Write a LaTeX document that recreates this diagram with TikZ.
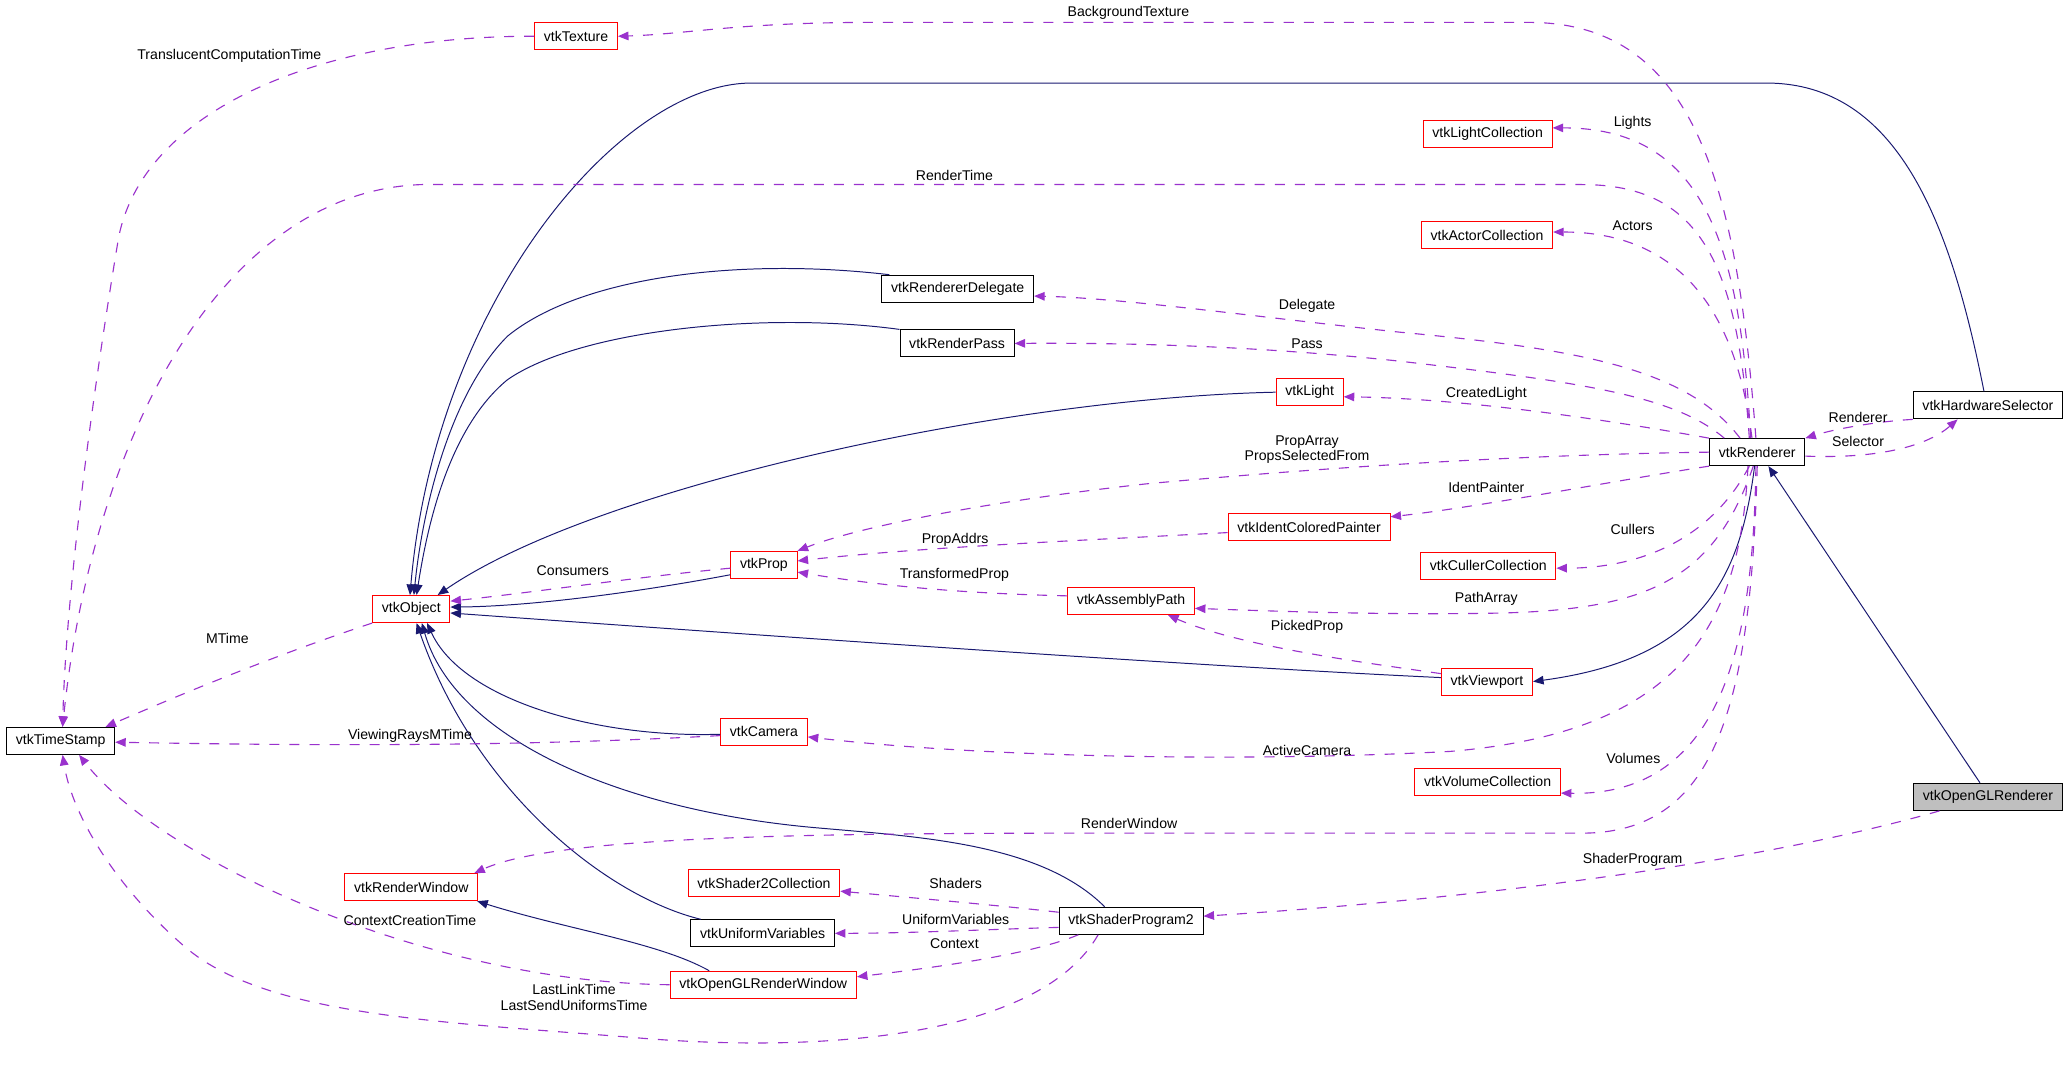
\documentclass[tikz,border=0pt]{standalone}
\usepackage{fontspec}
\setmainfont{Liberation Sans}
\usetikzlibrary{arrows.meta}
\definecolor{edgeblue}{RGB}{25,25,112}
\definecolor{edgepurple}{RGB}{154,50,205}
\definecolor{boxgray}{RGB}{191,191,191}
\begin{document}
\begin{tikzpicture}[x=1pt,y=-1pt,
  font=\fontsize{10.7}{12}\selectfont,
  cls/.style={draw=black,line width=0.75pt,minimum height=20.5pt,inner xsep=7pt,inner ysep=0pt},
  redcls/.style={cls,draw=red},
  lbl/.style={inner sep=0pt,align=center},
  inherit/.style={draw=edgeblue,line width=0.75pt,-{Triangle[length=8pt,width=6.5pt]}},
  usage/.style={draw=edgepurple,line width=0.85pt,dash pattern=on 7.6pt off 7.6pt,-{Triangle[length=8pt,width=6.5pt]}}]
   \useasboundingbox (0,0) rectangle (1568,809);

   \node[redcls] (tex) at (437,27.5) {vtkTexture};
   \node[redcls] (lcol) at (1128.5,101.5) {vtkLightCollection};
   \node[redcls] (acol) at (1128,178.5) {vtkActorCollection};
   \node[cls] (del) at (726.5,219) {vtkRendererDelegate};
   \node[cls] (pass) at (726,260.5) {vtkRenderPass};
   \node[redcls] (light) at (993.5,297.5) {vtkLight};
   \node[cls] (hw) at (1508,307.5) {vtkHardwareSelector};
   \node[cls] (ren) at (1333,343) {vtkRenderer};
   \node[redcls] (paint) at (993,400) {vtkIdentColoredPainter};
   \node[redcls] (prop) at (579.5,428.5) {vtkProp};
   \node[redcls] (apath) at (858,456) {vtkAssemblyPath};
   \node[redcls] (ccol) at (1129,429) {vtkCullerCollection};
   \node[redcls] (obj) at (312,462) {vtkObject};
   \node[redcls] (vp) at (1128,517) {vtkViewport};
   \node[redcls] (cam) at (579.5,555) {vtkCamera};
   \node[cls] (ts) at (46,562) {vtkTimeStamp};
   \node[redcls] (vcol) at (1128.5,593) {vtkVolumeCollection};
   \node[cls,fill=boxgray] (oglren) at (1508,604.5) {vtkOpenGLRenderer};
   \node[redcls] (rw) at (312,673) {vtkRenderWindow};
   \node[redcls] (s2col) at (579.5,670) {vtkShader2Collection};
   \node[cls] (sp2) at (858,698.5) {vtkShaderProgram2};
   \node[cls] (uvar) at (578.5,708) {vtkUniformVariables};
   \node[redcls] (oglrw) at (579,747) {vtkOpenGLRenderWindow};

   \draw[inherit] ([xshift=-3pt]hw.north) .. controls (1480,170) and (1440,63) .. (1340,63)
      -- (570,63) .. controls (470,63) and (330,230) .. ([xshift=-1pt]obj.north);
   \draw[inherit] ([xshift=6pt]del.north west) .. controls (560,195) and (440,210) .. (385,255)
      .. controls (340,300) and (320,390) .. ([xshift=2pt]obj.north);
   \draw[inherit] (pass.north west) .. controls (580,236) and (440,250) .. (385,288)
      .. controls (340,325) and (324,400) .. ([xshift=4pt]obj.north);
   \draw[inherit] (light.west) .. controls (760,302) and (450,370) .. ([xshift=20pt]obj.north);
   \draw[inherit] ([yshift=-7.5pt]prop.west) .. controls (480,450) and (400,460) .. ([yshift=1.5pt]obj.east);
   \draw[inherit] ([yshift=3pt]vp.west) .. controls (900,505) and (550,480) .. ([yshift=-3pt]obj.east);
   \draw[inherit] ([yshift=-2pt]cam.west) .. controls (450,560) and (350,530) .. ([xshift=12pt]obj.south);
   \draw[inherit] ([xshift=8pt]uvar.north west) .. controls (460,680) and (360,600) .. ([xshift=4pt]obj.south);
   \draw[inherit] ([xshift=-20pt]sp2.north) .. controls (790,640) and (700,635) .. (620,628)
      .. controls (470,615) and (345,560) .. ([xshift=8pt]obj.south);
   \draw[inherit] ([xshift=-2pt]ren.south) .. controls (1320,440) and (1290,500) .. (vp.east);
   \draw[inherit] ([xshift=-6pt]oglren.north) -- ([xshift=8.5pt]ren.south);
   \draw[inherit] ([xshift=-41pt]oglrw.north) .. controls (500,715) and (430,705) .. ([xshift=50pt]rw.south);

   \draw[usage] ([xshift=-1pt]ren.north) .. controls (1318,150) and (1290,17) .. (1160,17)
      -- (660,17) .. controls (560,17) and (520,26) .. (tex.east);
   \draw[usage] (tex.west) .. controls (250,27) and (110,80) .. (90,180)
      .. controls (70,300) and (50,450) .. ([xshift=1.5pt]ts.north);
   \draw[usage] ([xshift=-6pt]ren.north) .. controls (1318,200) and (1290,140) .. (1200,140)
      -- (320,140) .. controls (170,145) and (70,330) .. ([xshift=1.5pt]ts.north);
   \draw[usage] ([xshift=-5pt]ren.north) .. controls (1320,180) and (1290,97) .. ([yshift=4.5pt]lcol.east);
   \draw[usage] ([xshift=-4pt]ren.north) .. controls (1320,260) and (1290,176) .. ([yshift=2.5pt]acol.east);
   \draw[usage] ([xshift=-13pt]ren.north) .. controls (1280,280) and (1200,265) .. (1062,252)
      .. controls (950,240) and (850,226) .. ([yshift=-5.6pt]del.east);
   \draw[usage] ([xshift=-25pt]ren.north) .. controls (1270,300) and (1200,290) .. (1062,274)
      .. controls (950,262) and (850,260) .. (pass.east);
   \draw[usage] (ren.north west) .. controls (1200,315) and (1100,302) .. ([yshift=-3.5pt]light.east);
   \draw[usage] (ren.west) .. controls (1150,345) and (1000,355) .. (870,367)
      .. controls (750,380) and (650,400) .. (prop.north east);
   \draw[usage] (ren.south west) .. controls (1240,362) and (1120,385) .. ([yshift=8pt]paint.east);
   \draw[usage] ([yshift=-4pt]paint.west) .. controls (820,410) and (700,415) .. ([yshift=3pt]prop.east);
   \draw[usage] ([yshift=4pt]apath.west) .. controls (720,450) and (660,443) .. ([yshift=-5.5pt]prop.east);
   \draw[usage] ([yshift=-2.5pt]prop.west) .. controls (480,438) and (400,450) .. ([yshift=6pt]obj.east);
   \draw[usage] ([xshift=-6pt]ren.south) .. controls (1300,405) and (1250,431) .. ([yshift=-2pt]ccol.east);
   \draw[usage] ([xshift=-3pt]ren.south) .. controls (1300,440) and (1250,462) .. (1140,465)
      .. controls (1050,467) and (950,463) .. ([yshift=-5.5pt]apath.east);
   \draw[usage] ([yshift=6pt]vp.west) .. controls (1030,502) and (940,490) .. ([xshift=28pt]apath.south);
   \draw[usage] (obj.south west) .. controls (200,500) and (130,530) .. ([xshift=34pt]ts.north);
   \draw[usage] ([yshift=-3pt]cam.west) .. controls (400,566) and (250,566) .. ([yshift=-1pt]ts.east);
   \draw[usage] ([xshift=-7pt]ren.south) .. controls (1320,470) and (1280,555) .. (1100,570)
      .. controls (950,578) and (750,575) .. ([yshift=-4pt]cam.east);
   \draw[usage] ([xshift=-1pt]ren.south) .. controls (1330,480) and (1310,604) .. ([yshift=2pt]vcol.south east);
   \draw[usage] (ren.south) .. controls (1328,540) and (1300,632) .. (1200,632)
      -- (830,632) .. controls (600,632) and (420,635) .. ([xshift=-3pt]rw.north east);
   \draw[usage] ([xshift=20pt]oglren.south west) .. controls (1350,650) and (1150,680) .. ([yshift=3.5pt]sp2.east);
   \draw[usage] ([yshift=-3pt]ren.east) .. controls (1420,348) and (1460,340) .. ([xshift=-23pt]hw.south);
   \draw[usage] (hw.south west) .. controls (1420,320) and (1390,326) .. (ren.north east);
   \draw[usage] ([yshift=6.5pt]sp2.west) .. controls (750,686) and (680,680) .. ([yshift=-6pt]s2col.east);
   \draw[usage] ([yshift=-5pt]sp2.west) .. controls (750,705) and (690,708) .. (uvar.east);
   \draw[usage] ([xshift=-40pt]sp2.south) .. controls (780,725) and (700,735) .. ([yshift=6pt]oglrw.east);
   \draw[usage] (oglrw.west) .. controls (320,745) and (120,650) .. ([xshift=14pt]ts.south);
   \draw[usage] ([xshift=-25pt]sp2.south) .. controls (790,785) and (630,800) .. (480,787)
      .. controls (330,775) and (200,770) .. (140,718)
      .. controls (90,675) and (55,620) .. ([xshift=1.5pt]ts.south);

   \node[lbl] (lbgtex) at (856,10) {BackgroundTexture};
   \node[lbl] (ltrans) at (174,42) {TranslucentComputationTime};
   \node[lbl] (lrtime) at (724,133) {RenderTime};
   \node[lbl] (llights) at (1238.5,93) {Lights};
   \node[lbl] (lactors) at (1238.5,171.5) {Actors};
   \node[lbl] (ldel) at (991.5,232) {Delegate};
   \node[lbl] (lpass) at (991.5,260.5) {Pass};
   \node[lbl] (lclight) at (1127.5,299) {CreatedLight};
   \node[lbl] (lrenderer) at (1409.5,317) {Renderer};
   \node[lbl] (lselector) at (1409.5,335) {Selector};
   \node[lbl] (lprops) at (991.5,341) {PropArray\\PropsSelectedFrom};
   \node[lbl] (lpaint) at (1127.5,369.5) {IdentPainter};
   \node[lbl] (lcullers) at (1238.5,402) {Cullers};
   \node[lbl] (laddrs) at (724.5,409.5) {PropAddrs};
   \node[lbl] (lcons) at (434.5,433) {Consumers};
   \node[lbl] (ltprop) at (724,436) {TransformedProp};
   \node[lbl] (lpath) at (1127.5,454.5) {PathArray};
   \node[lbl] (lpicked) at (991.5,475.5) {PickedProp};
   \node[lbl] (lmtime) at (172.5,484) {MTime};
   \node[lbl] (lview) at (311,558) {ViewingRaysMTime};
   \node[lbl] (lcam) at (991.5,569.5) {ActiveCamera};
   \node[lbl] (lvol) at (1239,575) {Volumes};
   \node[lbl] (lrw) at (856.5,625) {RenderWindow};
   \node[lbl] (lsprog) at (1238.5,652) {ShaderProgram};
   \node[lbl] (lshaders) at (725,670) {Shaders};
   \node[lbl] (luvar) at (725,697.5) {UniformVariables};
   \node[lbl] (lcctime) at (311,698) {ContextCreationTime};
   \node[lbl] (lcontext) at (724,715.5) {Context};
   \node[lbl] (llink) at (435.5,756.5) {LastLinkTime\\LastSendUniformsTime};
\end{tikzpicture}
\end{document}
